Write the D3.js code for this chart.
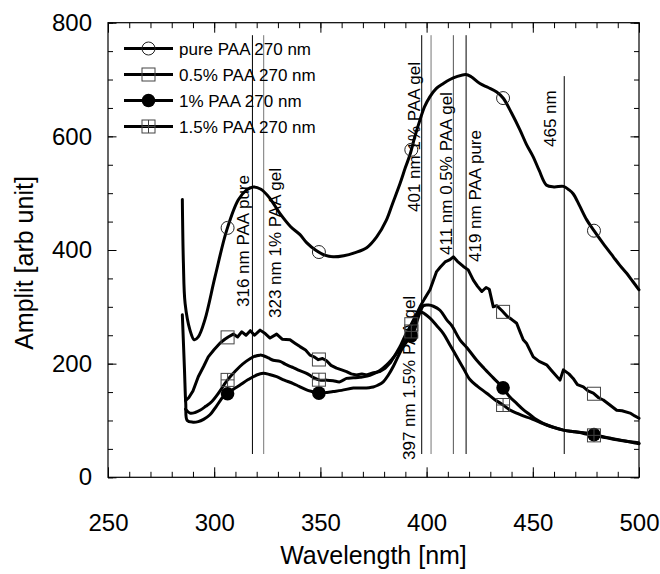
<!DOCTYPE html>
<html>
<head>
<meta charset="utf-8">
<script src="https://cdn.jsdelivr.net/npm/d3@7"></script>
<style>
body{margin:0;background:#fff}
svg{display:block;font-family:"Liberation Sans",Arial,sans-serif}
</style>
</head>
<body>
<svg id="chart"></svg>
<script>
// spectra: [wavelength nm, amplitude]
let purePAA=[[285,489],[285.5,377],[286.3,306],[288.6,259],[290.6,242],[292.5,247],[295.6,277],[300.4,353],[305.9,435],[311.3,488],[315,505],[318.4,511],[322,507],[326,492],[331,464],[336,441],[340.4,427],[343.5,413],[348,399],[352,391],[356,388],[361,390],[366,395],[371.8,404],[376.5,423],[381,452],[384,482],[387.5,517],[390,545],[392.2,568],[394.5,600],[396.9,629],[399,652],[401.6,670],[404.5,684],[407.9,693],[411,700],[414.2,705],[418.4,709],[421,705],[425.1,693],[429,686],[433,678],[436.1,667],[440,641],[444,611],[447,586],[450.2,564],[453,540],[456.5,514],[460,511],[464.4,512],[467,506],[469,499],[472,478],[475.4,453],[478.8,434],[483,412],[487.9,388],[491,373],[494.2,359],[497,345],[500,330]]
let gel05=[[286.5,135],[288,140],[290,152],[292.5,177],[295,195],[297.2,212],[300,225],[302.7,236],[305,243],[306.6,247],[309,252],[311,247],[313,256],[315,250],[317,258],[319,250],[321.6,259],[324,253],[326.3,245],[329.4,252],[332,243],[335.7,242],[338,236],[340.4,230],[343,224],[345.1,215],[347,212],[349,207],[351,209],[352.9,205],[355,197],[357.6,192],[360,189],[362.3,186],[364.5,182],[367,180],[369.5,182],[371.8,180],[375,184],[378,186],[380.5,192],[382.8,201],[385,214],[387.5,230],[390,250],[392.2,265],[394.5,282],[396.9,300],[399,314],[401.6,330],[404.7,362],[406.5,370],[408.7,379],[411,383],[412.6,388],[414.5,380],[417.3,371],[419.6,365],[422,347],[424,336],[426,327],[428,334],[429.5,331],[431.4,300],[433,302],[435.3,294],[438,283],[440,278],[442.4,271],[444,256],[445.5,242],[447,236],[450.2,212],[453,204],[456.5,198],[459,187],[462.8,171],[464.4,189],[467,182],[469,174],[471,163],[473.8,159],[476,152],[478.5,148],[481,140],[483.2,136],[486,128],[489.5,118],[492,117],[495.8,113],[498,108],[500,104]]
let gel1=[[285,286],[286,190],[286.6,130],[287.3,100],[290,97],[292.5,98],[295,102],[298,110],[301,125],[304.3,142],[306.3,147],[309,155],[312,162],[316,172],[320,180],[323.1,183],[326,181],[329.4,177],[333,171],[337.2,165],[340,160],[343.5,154],[346,151],[349,148],[352,149],[356,151],[360,153],[365.5,157],[370,157],[374.9,159],[377,162],[379.6,168],[382,180],[384.3,195],[386.5,212],[389,230],[391.5,243],[393.7,253],[395.5,275],[396.9,290],[398.5,302],[401,303],[403.2,301],[406.3,294],[409.5,277],[412,266],[415.7,242],[419,228],[423.6,206],[427,192],[431.4,175],[436.1,157],[439,142],[442.4,130],[445.5,119],[448.7,110],[451.5,102],[454.9,95],[459,89],[464.4,83],[470,80],[476.9,77],[481,73],[486.3,69],[492,65],[498.9,60],[500,59]]
let gel15=[[286.5,120],[288.6,113],[291,114],[293.3,118],[296,125],[298.8,133],[302,148],[304.5,162],[306.2,171],[309,183],[312.1,195],[315,204],[318.4,212],[321.6,215],[323.1,214],[325.5,210],[327.8,206],[331,204],[333.5,199],[335.7,195],[337.2,193],[340,188],[343.5,183],[346.5,176],[349.8,171],[353,171],[356,170],[359.2,168],[362.3,174],[365.5,175],[368.6,176],[372,178],[374.9,182],[378,188],[381.2,198],[383.5,207],[385.9,218],[388.3,230],[390.6,242],[393,258],[394.8,275],[396.1,290],[398,290],[401.6,280],[404.7,267],[407.9,253],[411,233],[414.2,212],[417.3,192],[420.4,172],[424,160],[428.3,148],[432,137],[436.1,127],[439,119],[442.4,113],[445.5,108],[448.7,104],[452.6,98],[456.5,92],[460.5,87],[464.4,83],[468,81],[472.2,79],[475,76],[478.5,74],[484,70],[489.5,66],[494.6,63],[499.7,61],[500,60]]

let seriesNames=['pure PAA 270 nm','0.5% PAA 270 nm','1% PAA 270 nm','1.5% PAA 270 nm']
let markerWl=[306.3,349.3,392.8,436,478.8]

// marked wavelengths and their labels
let annoWl=[318,323.3,397.7,402.1,412.6,418.6,464.8]
let annoText=['316 nm PAA pure','323 nm 1% PAA gel','397 nm 1.5% PAA gel','401 nm 1% PAA gel','411 nm 0.5% PAA gel','419 nm PAA pure','465 nm']
let annoTop=[778,778,778,778,778,778,706]
let annoBottom=41

let xTicks=[250,300,350,400,450,500]
let yTicks=[0,200,400,600,800]

let width=660, height=574
let plotLeft=108, plotRight=639, plotTop=22.7, plotBottom=477.3

let svg=d3.select('#chart').attr('width',width).attr('height',height)

let x=d3.scaleLinear().domain([250,500]).range([plotLeft,plotRight])
let y=d3.scaleLinear().domain([0,800]).range([plotBottom,plotTop])

// ticks, all pointing inward
let tickAxis=(axis,scale,values,size,tx,ty)=>{
  let g=svg.append('g').attr('transform','translate('+tx+','+ty+')')
    .call(axis(scale).tickValues(values).tickSizeInner(-size).tickSizeOuter(0).tickFormat(''))
  g.select('.domain').remove()
  g.selectAll('line').attr('stroke','#000')
  return g
}
let xMinor=d3.range(250,501,10), yMinor=d3.range(0,801,50)
tickAxis(d3.axisBottom,x,xMinor,5.5,0,plotBottom)
tickAxis(d3.axisBottom,x,xTicks,10,0,plotBottom)
tickAxis(d3.axisTop,x,xMinor,5.5,0,plotTop)
tickAxis(d3.axisTop,x,xTicks,10,0,plotTop)
tickAxis(d3.axisLeft,y,yMinor,5,plotLeft,0)
tickAxis(d3.axisLeft,y,yTicks,8.5,plotLeft,0)
tickAxis(d3.axisRight,y,yMinor,5,plotRight,0)
tickAxis(d3.axisRight,y,yTicks,8.5,plotRight,0)

// tick labels
let xLab=svg.append('g').attr('transform','translate(0,'+plotBottom+')')
  .call(d3.axisBottom(x).tickValues(xTicks).tickSize(0).tickPadding(37))
xLab.select('.domain').remove()
xLab.selectAll('text').attr('font-size',24).attr('font-family','"Liberation Sans",Arial,sans-serif').attr('fill','#000')
let yLab=svg.append('g').attr('transform','translate('+plotLeft+',0)')
  .call(d3.axisLeft(y).tickValues(yTicks).tickSize(0).tickPadding(16))
yLab.select('.domain').remove()
yLab.selectAll('text').attr('font-size',24).attr('font-family','"Liberation Sans",Arial,sans-serif').attr('fill','#000')

svg.append('rect').attr('x',plotLeft).attr('y',plotTop).attr('width',plotRight-plotLeft).attr('height',plotBottom-plotTop)
  .attr('fill','none').attr('stroke','#000').attr('stroke-width',1.2)

svg.append('text').attr('x',(plotLeft+plotRight)/2).attr('y',564).attr('text-anchor','middle')
  .attr('font-size',25).text('Wavelength [nm]')
svg.append('text').attr('transform','translate(33,263) rotate(-90)').attr('text-anchor','middle')
  .attr('font-size',25).text('Amplit [arb unit]')

// vertical marker lines
let annoColor=['#000','#777','#000','#777','#555','#000','#000']
let annoDx=[-3.5,17,-6.5,-11,-1,15,-8.5]
let annoY=[307,318,460,212,255,262,147]
annoWl.forEach((w,i)=>{
  svg.append('line').attr('x1',x(w)).attr('x2',x(w)).attr('y1',y(annoTop[i])).attr('y2',y(annoBottom))
    .attr('stroke',annoColor[i]).attr('stroke-width',1)
  svg.append('text').attr('transform','translate('+(x(w)+annoDx[i])+','+annoY[i]+') rotate(-90)')
    .attr('font-size',17).text(annoText[i])
})

// curves
let series=[purePAA,gel05,gel1,gel15]
let curves=[d3.curveCatmullRom.alpha(0.5),d3.curveLinear,d3.curveCatmullRom.alpha(0.5),d3.curveCatmullRom.alpha(0.5)]
series.forEach((s,i)=>{
  svg.append('path').datum(s)
    .attr('d',d3.line().x(d=>x(d[0])).y(d=>y(d[1])).curve(curves[i]))
    .attr('fill','none').attr('stroke','#000').attr('stroke-width',3)
    .attr('stroke-linejoin','round').attr('stroke-linecap','round')
})

let valueAt=(s,w)=>{
  let i=d3.bisector(d=>d[0]).left(s,w)
  if(i<=0) return s[0][1]
  if(i>=s.length) return s[s.length-1][1]
  let a=s[i-1], b=s[i]
  return a[1]+(b[1]-a[1])*(w-a[0])/(b[0]-a[0])
}

let drawMarker=(type,cx,cy)=>{
  if(type===0){
    svg.append('circle').attr('cx',cx).attr('cy',cy).attr('r',6.5).attr('fill','none').attr('stroke','#222').attr('stroke-width',1)
  } else if(type===2){
    svg.append('circle').attr('cx',cx).attr('cy',cy).attr('r',6.8).attr('fill','#000')
  } else {
    svg.append('rect').attr('x',cx-6.5).attr('y',cy-6.5).attr('width',13).attr('height',13)
      .attr('fill','none').attr('stroke','#444').attr('stroke-width',1)
    if(type===3){
      svg.append('path').attr('d','M'+(cx-6.5)+','+cy+'H'+(cx+6.5)+'M'+cx+','+(cy-6.5)+'V'+(cy+6.5))
        .attr('stroke','#444').attr('stroke-width',1)
    }
  }
}
series.forEach((s,i)=>{
  markerWl.forEach(w=>drawMarker(i,x(w),y(valueAt(s,w))))
})

// legend
let legY=[48.5,74.5,100.5,126.5]
seriesNames.forEach((name,i)=>{
  svg.append('line').attr('x1',124).attr('x2',173).attr('y1',legY[i]).attr('y2',legY[i])
    .attr('stroke','#000').attr('stroke-width',3)
  drawMarker(i,148.5,legY[i])
  svg.append('text').attr('x',179).attr('y',legY[i]).attr('dy','0.36em').attr('font-size',17).text(name)
})
</script>
</body>
</html>
